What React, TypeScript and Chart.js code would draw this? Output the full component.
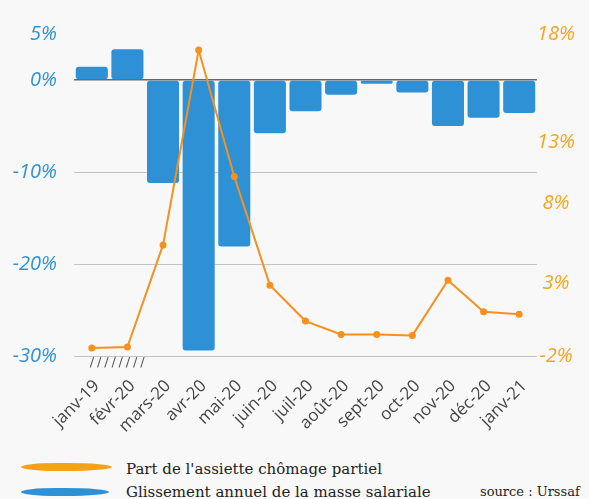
import React, { useEffect, useRef } from "react";
import { Chart, registerables } from "chart.js";

Chart.register(...registerables);

const categories = ["janv-19", "févr-20", "mars-20", "avr-20", "mai-20", "juin-20", "juil-20", "août-20", "sept-20", "oct-20", "nov-20", "déc-20", "janv-21"];
const masseSalariale = [1.45, 3.35, -11.2, -29.4, -18.1, -5.8, -3.4, -1.6, -0.4, -1.35, -5.0, -4.1, -3.6];
const chomagePartiel = [-1.5, -1.44, 4.9, 17.0, 9.15, 2.4, 0.17, -0.66, -0.66, -0.72, 2.7, 0.75, 0.6];
const leftTicks = [-30, -20, -10, 0, 5];
const rightTickLabels = ["-2%", "3%", "8%", "13%", "18%"];
const rightTickValues = [-2, 2.5, 7.5, 11.3, 18];

const BLUE = "#2e91d5";
const ORANGE = "#f6901e";
const ORANGE_TXT = "#f5a320";

export default function App() {
  const ref = useRef<HTMLCanvasElement>(null);
  useEffect(() => {
    document.body.style.margin = "0";
    document.body.style.background = "#f8f8f8";
    const hatch = {
      id: "hatch",
      afterDraw(chart: any) {
        const ctx = chart.ctx;
        const x0 = chart.scales.x.getPixelForValue(0) - 2;
        const y = chart.chartArea.bottom + 7;
        ctx.save();
        ctx.fillStyle = "#555";
        ctx.font = "13px 'DejaVu Sans'";
        ctx.textBaseline = "middle";
        for (let i = 0; i < 8; i++) ctx.fillText("/", x0 + i * 7.2, y);
        ctx.restore();
      },
    };
    const chart = new Chart(ref.current!, {
      type: "bar",
      data: {
        labels: categories,
        datasets: [
          {
            type: "line",
            label: "Part de l'assiette chômage partiel",
            data: chomagePartiel,
            yAxisID: "y1",
            borderColor: ORANGE,
            backgroundColor: ORANGE,
            borderWidth: 2,
            pointRadius: 2.5,
            order: 0,
          } as any,
          {
            type: "bar",
            label: "Glissement annuel de la masse salariale",
            data: masseSalariale,
            yAxisID: "y",
            backgroundColor: BLUE,
            borderRadius: 3,
            borderSkipped: false,
            barPercentage: 0.9,
            categoryPercentage: 1,
            order: 1,
          },
        ],
      },
      options: {
        animation: false,
        responsive: false,
        maintainAspectRatio: false,
        layout: { padding: { top: 34, left: 0, right: 0, bottom: 0 } },
        plugins: { legend: { display: false }, tooltip: { enabled: false } },
        scales: {
          x: {
            grid: { display: false },
            border: { display: false },
            ticks: {
              color: "#444",
              font: { family: "'Open Sans'", size: 17 },
              maxRotation: 45,
              minRotation: 45,
              padding: 12,
              labelOffset: 5,
              autoSkip: false,
            },
            afterFit(scale: any) {
              scale.height = 84;
            },
          },
          y: {
            position: "left",
            min: -30,
            max: 5,
            afterBuildTicks(scale: any) {
              scale.ticks = leftTicks.map((v) => ({ value: v }));
            },
            afterFit(scale: any) {
              scale.width = 74;
            },
            border: { display: false },
            grid: {
              drawTicks: false,
              color: (c: any) => (c.tick && c.tick.value === 0 ? "#666" : c.tick && c.tick.value === 5 ? "rgba(0,0,0,0)" : "#c4c4c4"),
              lineWidth: (c: any) => (c.tick && c.tick.value === 0 ? 1.5 : 1),
            },
            ticks: {
              color: BLUE,
              padding: 17,
              font: { family: "'Open Sans'", size: 20, style: "italic" },
              callback: (v: any) => v + "%",
            },
          },
          y1: {
            position: "right",
            min: -2,
            max: 18,
            afterBuildTicks(scale: any) {
              scale.ticks = rightTickValues.map((v) => ({ value: v }));
            },
            afterFit(scale: any) {
              scale.width = 52;
            },
            border: { display: false },
            grid: { display: false, drawTicks: false },
            ticks: {
              color: ORANGE_TXT,
              crossAlign: "center",
              padding: 0,
              font: { family: "'Open Sans'", size: 20, style: "italic" },
              callback: (_v: any, i: number) => rightTickLabels[i],
            },
          },
        },
      },
      plugins: [hatch],
    });
    return () => chart.destroy();
  }, []);

  const brush = (color: string): React.CSSProperties => ({
    position: "absolute",
    left: 21,
    width: 91,
    height: 8,
    background: color,
    borderRadius: "40% 50% 50% 40% / 50%",
  });
  const text: React.CSSProperties = {
    position: "absolute",
    left: 126,
    fontFamily: "'DejaVu Serif', serif",
    fontSize: 15,
    color: "#222",
    lineHeight: "18px",
    whiteSpace: "nowrap",
  };

  return (
    <div style={{ position: "relative", width: 589, height: 499, background: "#f8f8f8", overflow: "hidden" }}>
      <canvas ref={ref} width={589} height={440} style={{ display: "block" }} />
      <div style={{ ...brush("#f5a11a"), top: 463 }} />
      <div style={{ ...text, top: 460 }}>Part de l'assiette chômage partiel</div>
      <div style={{ ...brush(BLUE), top: 488, width: 88 }} />
      <div style={{ ...text, top: 483 }}>Glissement annuel de la masse salariale</div>
      <div style={{ ...text, left: 480, top: 483, fontSize: 13 }}>source : Urssaf</div>
    </div>
  );
}
